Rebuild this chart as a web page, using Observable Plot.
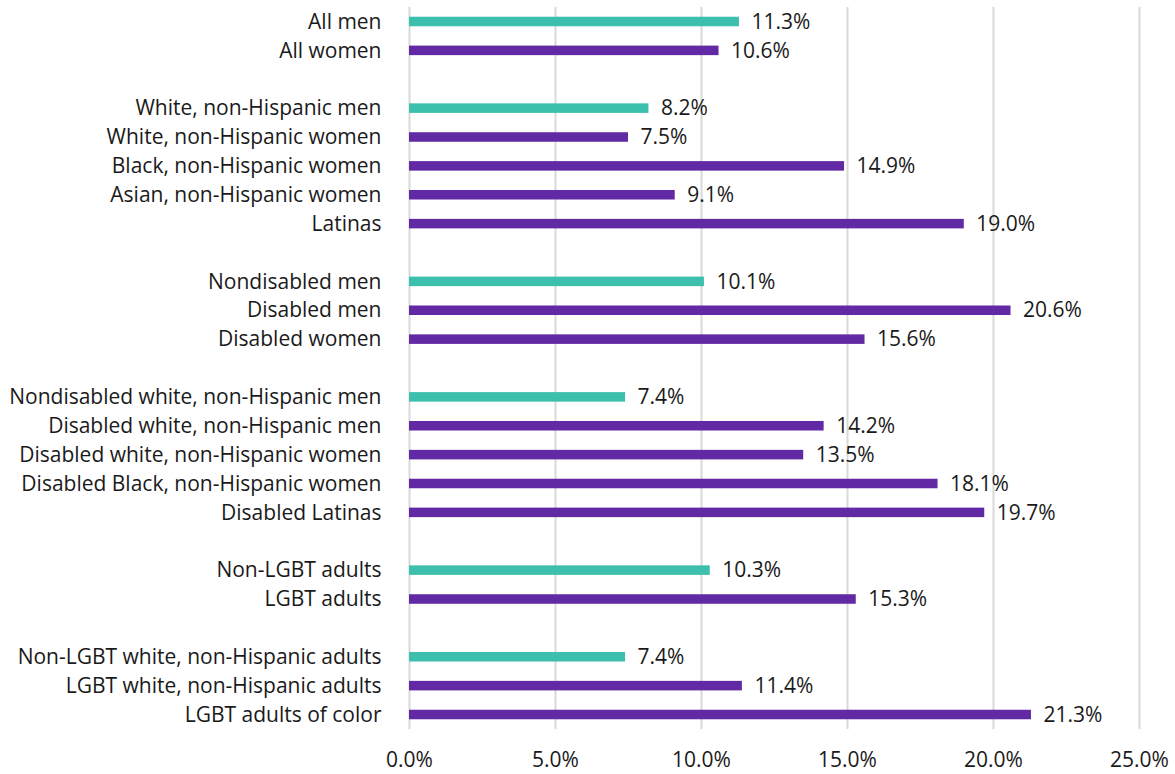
<!DOCTYPE html>
<html>
<head>
<meta charset="utf-8">
<script src="https://cdn.jsdelivr.net/npm/d3@7"></script>
<script src="https://cdn.jsdelivr.net/npm/@observablehq/plot@0.6"></script>
<style>
  html, body { margin: 0; padding: 0; background: #fff; }
  #chart svg { font-family: "Open Sans", sans-serif; }
</style>
</head>
<body>
<div id="chart"></div>
<script>
// null marks a blank spacer row between groups
const categories = [
  "All men", "All women", null,
  "White, non-Hispanic men", "White, non-Hispanic women", "Black, non-Hispanic women", "Asian, non-Hispanic women", "Latinas", null,
  "Nondisabled men", "Disabled men", "Disabled women", null,
  "Nondisabled white, non-Hispanic men", "Disabled white, non-Hispanic men", "Disabled white, non-Hispanic women", "Disabled Black, non-Hispanic women", "Disabled Latinas", null,
  "Non-LGBT adults", "LGBT adults", null,
  "Non-LGBT white, non-Hispanic adults", "LGBT white, non-Hispanic adults", "LGBT adults of color"
];
const values = [
  11.3, 10.6, null,
  8.2, 7.5, 14.9, 9.1, 19.0, null,
  10.1, 20.6, 15.6, null,
  7.4, 14.2, 13.5, 18.1, 19.7, null,
  10.3, 15.3, null,
  7.4, 11.4, 21.3
];
const isReference = [
  true, false, null,
  true, false, false, false, false, null,
  true, false, false, null,
  true, false, false, false, false, null,
  true, false, null,
  true, false, false
];
const xTicks = [0, 5, 10, 15, 20, 25];

const keys = categories.map((c, i) => c === null ? "gap" + i : c);
const data = categories.map((c, i) => ({key: keys[i], value: values[i], ref: isReference[i]}))
  .filter(d => d.value !== null);

const teal = "#3DBFAE";
const purple = "#6229A4";
const ink = "#1a1a1a";
const pct = d => d.toFixed(1) + "%";

const chart = Plot.plot({
  width: 1175,
  height: 774,
  marginLeft: 409,
  marginRight: 36,
  marginTop: 7,
  marginBottom: 45,
  style: {fontSize: "21px", color: ink, fontFamily: "'Open Sans', sans-serif"},
  x: {domain: [0, 25], ticks: xTicks, tickFormat: pct, label: null},
  y: {domain: keys, paddingInner: 0.67, paddingOuter: 0.337, round: false, label: null,
      tickFormat: d => d.startsWith("gap") ? "" : d},
  marks: [
    Plot.ruleX(xTicks, {stroke: "#d9d9d9", strokeWidth: 2}),
    Plot.barX(data, {x: "value", y: "key", fill: d => d.ref ? teal : purple}),
    Plot.text(data, {x: "value", y: "key", text: d => pct(d.value), textAnchor: "start", dx: 12, fill: ink, fontSize: 21}),
    Plot.axisY({tickSize: 0, tickPadding: 28, label: null, fontSize: 21, tickFormat: d => d.startsWith("gap") ? "" : d}),
    Plot.axisX({ticks: xTicks, tickSize: 0, tickPadding: 23, fontSize: 21, tickFormat: pct, label: null})
  ]
});
document.getElementById("chart").appendChild(chart);
</script>
</body>
</html>
